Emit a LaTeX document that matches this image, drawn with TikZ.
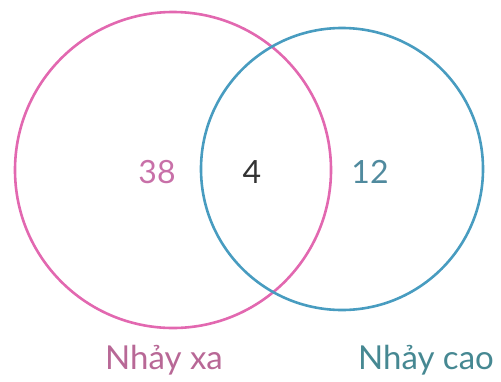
\documentclass[tikz,border=0pt]{standalone}
\usepackage{fontspec}
\setmainfont{Lato}
\usetikzlibrary{positioning}
\definecolor{jumppink}{RGB}{226,104,176}
\definecolor{jumpblue}{RGB}{72,156,192}
\definecolor{pinktext}{RGB}{200,112,168}
\definecolor{bluetext}{RGB}{80,138,158}
\definecolor{labelpink}{RGB}{184,104,150}
\definecolor{labelblue}{RGB}{70,136,146}

\begin{document}
\begin{tikzpicture}[x=1pt, y=-1pt,
      setcircle/.style={circle, line width=2.6pt, inner sep=0pt},
      count/.style={font=\fontsize{32}{35}\selectfont},
      setlabel/.style={font=\fontsize{33}{36}\selectfont}
    ]
    \useasboundingbox (0,0) rectangle (501,381);
    \node[setcircle, draw=jumppink, minimum size=316pt] (xa) at (173,170) {};
    \node[setcircle, draw=jumpblue, minimum size=282pt] (cao) at (342,169) {};

    \node[count, text=pinktext] (onlyxa) at (157,172) {38};
    \node[count, text=black!80] (both) at (252,172) {4};
    \node[count, text=bluetext] (onlycao) at (370,172) {12};

    \node[setlabel, text=labelpink] (labxa) at (164,360) {Nhảy xa};
    \node[setlabel, text=labelblue] (labcao) at (426,360) {Nhảy cao};
  \end{tikzpicture}
\end{document}
